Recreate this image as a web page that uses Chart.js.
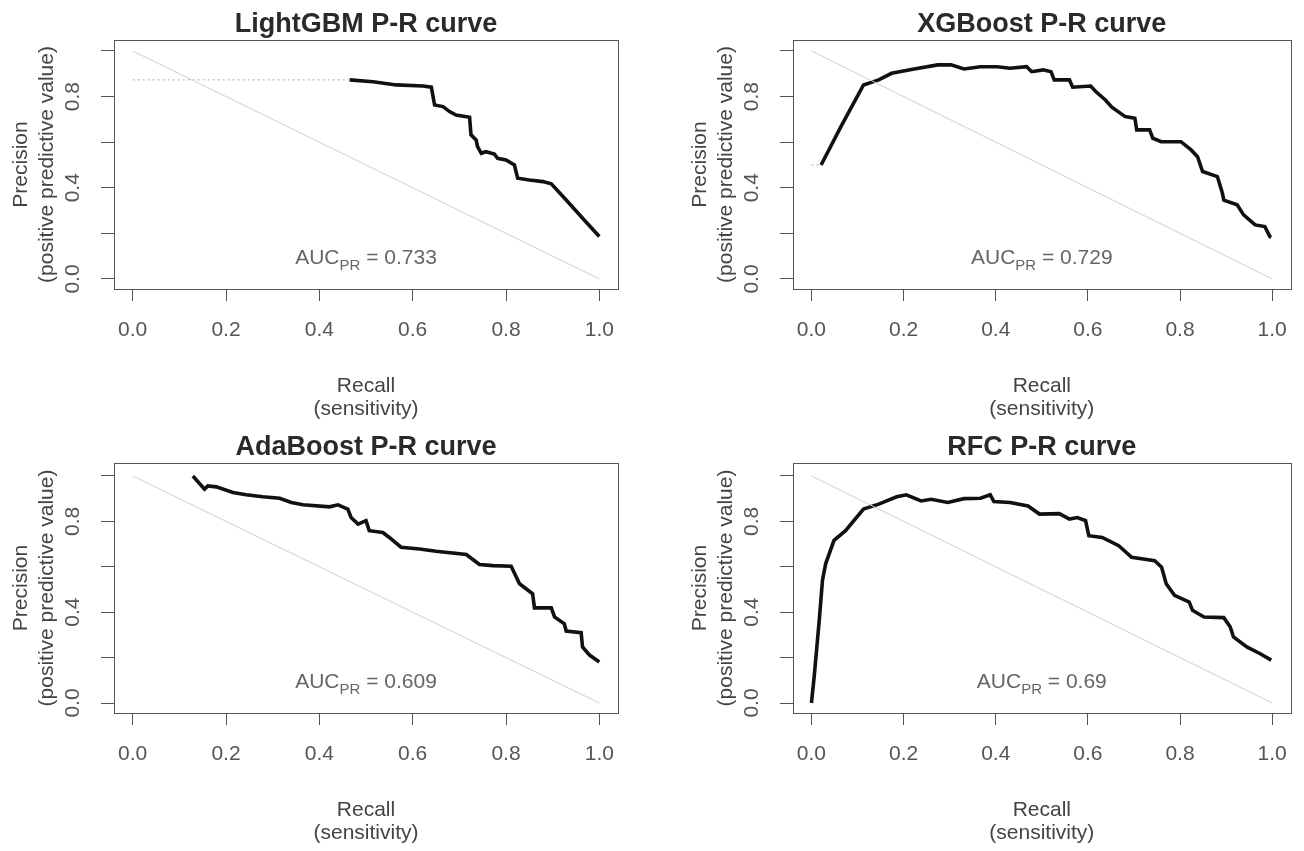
<!DOCTYPE html>
<html>
<head>
<meta charset="utf-8">
<title>P-R curves</title>
<script src="https://cdn.jsdelivr.net/npm/chart.js@4.4.1/dist/chart.umd.min.js"></script>
<style>
  body { margin: 0; background: #fff; }
  #wrap { position: relative; width: 1304px; height: 851px; overflow: hidden; }
  canvas { position: absolute; }
</style>
</head>
<body>
<div id="wrap">
  <canvas id="pr1" width="652" height="425" style="left:0;top:0"></canvas>
  <canvas id="pr2" width="652" height="425" style="left:652px;top:0"></canvas>
  <canvas id="pr3" width="652" height="426" style="left:0;top:425px"></canvas>
  <canvas id="pr4" width="652" height="426" style="left:652px;top:425px"></canvas>
</div>
<script>
// recall / precision pairs per model
var lgbmRecall = [0.465, 0.515, 0.565, 0.622, 0.640, 0.647, 0.665, 0.679, 0.693, 0.722, 0.725, 0.736, 0.739, 0.747, 0.757, 0.775, 0.782, 0.800, 0.818, 0.825, 0.850, 0.879, 0.897, 0.929, 0.971, 1.0];
var lgbmPrecision = [0.873, 0.865, 0.851, 0.846, 0.841, 0.763, 0.756, 0.734, 0.719, 0.709, 0.632, 0.610, 0.580, 0.551, 0.558, 0.548, 0.529, 0.522, 0.500, 0.442, 0.434, 0.427, 0.417, 0.346, 0.251, 0.186];

var xgbRecall = [0.021, 0.064, 0.113, 0.146, 0.174, 0.217, 0.274, 0.303, 0.331, 0.367, 0.403, 0.431, 0.467, 0.478, 0.503, 0.520, 0.527, 0.560, 0.567, 0.606, 0.617, 0.638, 0.652, 0.681, 0.702, 0.706, 0.734, 0.741, 0.759, 0.802, 0.824, 0.838, 0.849, 0.881, 0.892, 0.895, 0.924, 0.938, 0.963, 0.984, 0.995, 0.998];
var xgbPrecision = [0.500, 0.668, 0.851, 0.873, 0.902, 0.919, 0.939, 0.939, 0.921, 0.931, 0.931, 0.924, 0.931, 0.909, 0.917, 0.909, 0.873, 0.873, 0.841, 0.846, 0.822, 0.785, 0.753, 0.712, 0.705, 0.654, 0.654, 0.617, 0.602, 0.602, 0.566, 0.536, 0.471, 0.449, 0.376, 0.346, 0.325, 0.281, 0.237, 0.230, 0.186, 0.183];

var adaRecall = [0.129, 0.154, 0.161, 0.179, 0.215, 0.243, 0.279, 0.315, 0.340, 0.365, 0.422, 0.440, 0.461, 0.468, 0.483, 0.500, 0.507, 0.536, 0.550, 0.575, 0.615, 0.650, 0.715, 0.743, 0.772, 0.811, 0.829, 0.857, 0.861, 0.897, 0.904, 0.925, 0.929, 0.961, 0.964, 0.979, 1.0];
var adaPrecision = [1.0, 0.942, 0.956, 0.952, 0.927, 0.917, 0.908, 0.902, 0.883, 0.873, 0.864, 0.873, 0.854, 0.817, 0.788, 0.803, 0.759, 0.751, 0.729, 0.686, 0.678, 0.668, 0.654, 0.610, 0.605, 0.602, 0.525, 0.481, 0.419, 0.419, 0.379, 0.349, 0.317, 0.310, 0.247, 0.211, 0.181];

var rfcRecall = [0.0, 0.006, 0.017, 0.024, 0.031, 0.049, 0.074, 0.113, 0.146, 0.185, 0.206, 0.238, 0.260, 0.296, 0.331, 0.367, 0.388, 0.396, 0.431, 0.470, 0.495, 0.538, 0.560, 0.577, 0.595, 0.602, 0.631, 0.667, 0.695, 0.745, 0.760, 0.770, 0.788, 0.820, 0.827, 0.852, 0.895, 0.909, 0.916, 0.945, 0.973, 0.998];
var rfcPrecision = [0.0, 0.117, 0.365, 0.541, 0.614, 0.716, 0.759, 0.854, 0.876, 0.908, 0.917, 0.890, 0.897, 0.883, 0.900, 0.902, 0.917, 0.887, 0.883, 0.868, 0.832, 0.834, 0.810, 0.817, 0.803, 0.737, 0.729, 0.693, 0.642, 0.627, 0.598, 0.525, 0.474, 0.444, 0.408, 0.379, 0.376, 0.335, 0.291, 0.247, 0.218, 0.189];

var panelTitles = ['LightGBM P-R curve', 'XGBoost P-R curve', 'AdaBoost P-R curve', 'RFC P-R curve'];
var aucLabels = ['0.733', '0.729', '0.609', '0.69'];
var axisTicks = [0, 0.2, 0.4, 0.6, 0.8, 1.0];

var FONT = '"Liberation Sans", Arial, Helvetica, sans-serif';

function pts(xs, ys) {
  return xs.map(function (x, i) { return { x: x, y: ys[i] }; });
}

// box, title, rotated y labels, axis titles and the AUC note, base-graphics style
var rFrame = {
  id: 'rFrame',
  afterDraw: function (chart, args, opts) {
    var ctx = chart.ctx, a = chart.chartArea;
    var xs = chart.scales.x, ys = chart.scales.y;
    ctx.save();
    ctx.strokeStyle = '#555';
    ctx.lineWidth = 1;
    ctx.strokeRect(Math.round(a.left) + 0.5, Math.round(a.top) + 0.5, Math.round(a.right - a.left), Math.round(a.bottom - a.top));

    var cx = (a.left + a.right) / 2, cy = (a.top + a.bottom) / 2;

    ctx.fillStyle = '#2a2a2a';
    ctx.font = 'bold 27px ' + FONT;
    ctx.textAlign = 'center';
    ctx.textBaseline = 'alphabetic';
    ctx.fillText(opts.title, cx, a.top - 8);

    // x axis title
    ctx.fillStyle = '#444';
    ctx.font = '21px ' + FONT;
    ctx.fillText('Recall', cx, a.bottom + 103);
    ctx.fillText('(sensitivity)', cx, a.bottom + 126);

    // y tick labels, read bottom to top
    ctx.fillStyle = '#555';
    [0, 0.4, 0.8].forEach(function (v) {
      ctx.save();
      ctx.translate(a.left - 41, ys.getPixelForValue(v));
      ctx.rotate(-Math.PI / 2);
      ctx.textBaseline = 'middle';
      ctx.fillText(v.toFixed(1), 0, 0);
      ctx.restore();
    });

    // y axis title
    ctx.fillStyle = '#444';
    ctx.save();
    ctx.translate(a.left - 93, cy);
    ctx.rotate(-Math.PI / 2);
    ctx.textBaseline = 'middle';
    ctx.fillText('Precision', 0, 0);
    ctx.restore();
    ctx.save();
    ctx.translate(a.left - 67, cy);
    ctx.rotate(-Math.PI / 2);
    ctx.textBaseline = 'middle';
    ctx.fillText('(positive predictive value)', 0, 0);
    ctx.restore();

    // AUC[PR] = value
    var big = '21px ' + FONT, small = '15px ' + FONT;
    var rest = ' = ' + opts.auc;
    ctx.font = big;
    var w1 = ctx.measureText('AUC').width, w3 = ctx.measureText(rest).width;
    ctx.font = small;
    var w2 = ctx.measureText('PR').width;
    var tx = xs.getPixelForValue(0.5) - (w1 + w2 + w3) / 2;
    var ty = ys.getPixelForValue(0.1) + 8;
    ctx.fillStyle = '#666';
    ctx.textAlign = 'left';
    ctx.font = big;
    ctx.fillText('AUC', tx, ty);
    ctx.font = small;
    ctx.fillText('PR', tx + w1, ty + 6);
    ctx.font = big;
    ctx.fillText(rest, tx + w1 + w2, ty);
    ctx.restore();
  }
};

function makePanel(id, idx, recall, precision, opts) {
  var datasets = [
    {
      data: [{ x: 0, y: 1 }, { x: 1, y: 0 }],
      borderColor: '#cfcfcf', borderWidth: 1
    },
    {
      data: pts(recall, precision),
      borderColor: '#111', borderWidth: 3.6
    }
  ];
  if (opts.dotted) {
    datasets.push({
      data: [{ x: 0, y: precision[0] }, { x: recall[0], y: precision[0] }],
      borderColor: '#aaa', borderWidth: 1, borderDash: [2, 3]
    });
  }
  datasets.forEach(function (d) {
    d.showLine = true;
    d.pointRadius = 0;
    d.tension = 0;
  });

  new Chart(document.getElementById(id), {
    type: 'scatter',
    data: { datasets: datasets },
    plugins: [rFrame],
    options: {
      responsive: false,
      animation: false,
      devicePixelRatio: 1,
      layout: { autoPadding: false, padding: { left: 0, right: opts.padRight, top: opts.padTop, bottom: 0 } },
      plugins: {
        legend: { display: false },
        tooltip: { enabled: false },
        rFrame: { title: panelTitles[idx], auc: aucLabels[idx] }
      },
      scales: {
        x: {
          type: 'linear', min: -0.04, max: 1.04,
          afterBuildTicks: function (s) { s.ticks = axisTicks.map(function (v) { return { value: v }; }); },
          afterFit: function (s) { s.height = opts.xHeight; },
          border: { display: false },
          grid: { drawOnChartArea: false, drawTicks: true, tickLength: 12, color: '#555', tickColor: '#555' },
          ticks: {
            autoSkip: false, maxRotation: 0, padding: 17, color: '#555',
            font: { family: FONT, size: 21 },
            callback: function (v) { return Number(v).toFixed(1); }
          }
        },
        y: {
          type: 'linear', min: opts.yMin, max: opts.yMax,
          afterBuildTicks: function (s) { s.ticks = axisTicks.map(function (v) { return { value: v }; }); },
          afterFit: function (s) { s.width = opts.yWidth; },
          border: { display: false },
          grid: { drawOnChartArea: false, drawTicks: true, tickLength: 13, color: '#555', tickColor: '#555' },
          ticks: { color: 'rgba(0,0,0,0)', font: { size: 10 } }
        }
      }
    }
  });
}

makePanel('pr1', 0, lgbmRecall, lgbmPrecision, { dotted: true, padRight: 34, padTop: 40, xHeight: 136, yWidth: 114, yMin: -0.044, yMax: 1.048 });
makePanel('pr2', 1, xgbRecall, xgbPrecision, { dotted: true, padRight: 6, padTop: 40, xHeight: 136, yWidth: 141, yMin: -0.044, yMax: 1.048 });
makePanel('pr3', 2, adaRecall, adaPrecision, { dotted: false, padRight: 34, padTop: 38, xHeight: 138, yWidth: 114, yMin: -0.044, yMax: 1.057 });
makePanel('pr4', 3, rfcRecall, rfcPrecision, { dotted: false, padRight: 6, padTop: 38, xHeight: 138, yWidth: 141, yMin: -0.044, yMax: 1.057 });
</script>
</body>
</html>
